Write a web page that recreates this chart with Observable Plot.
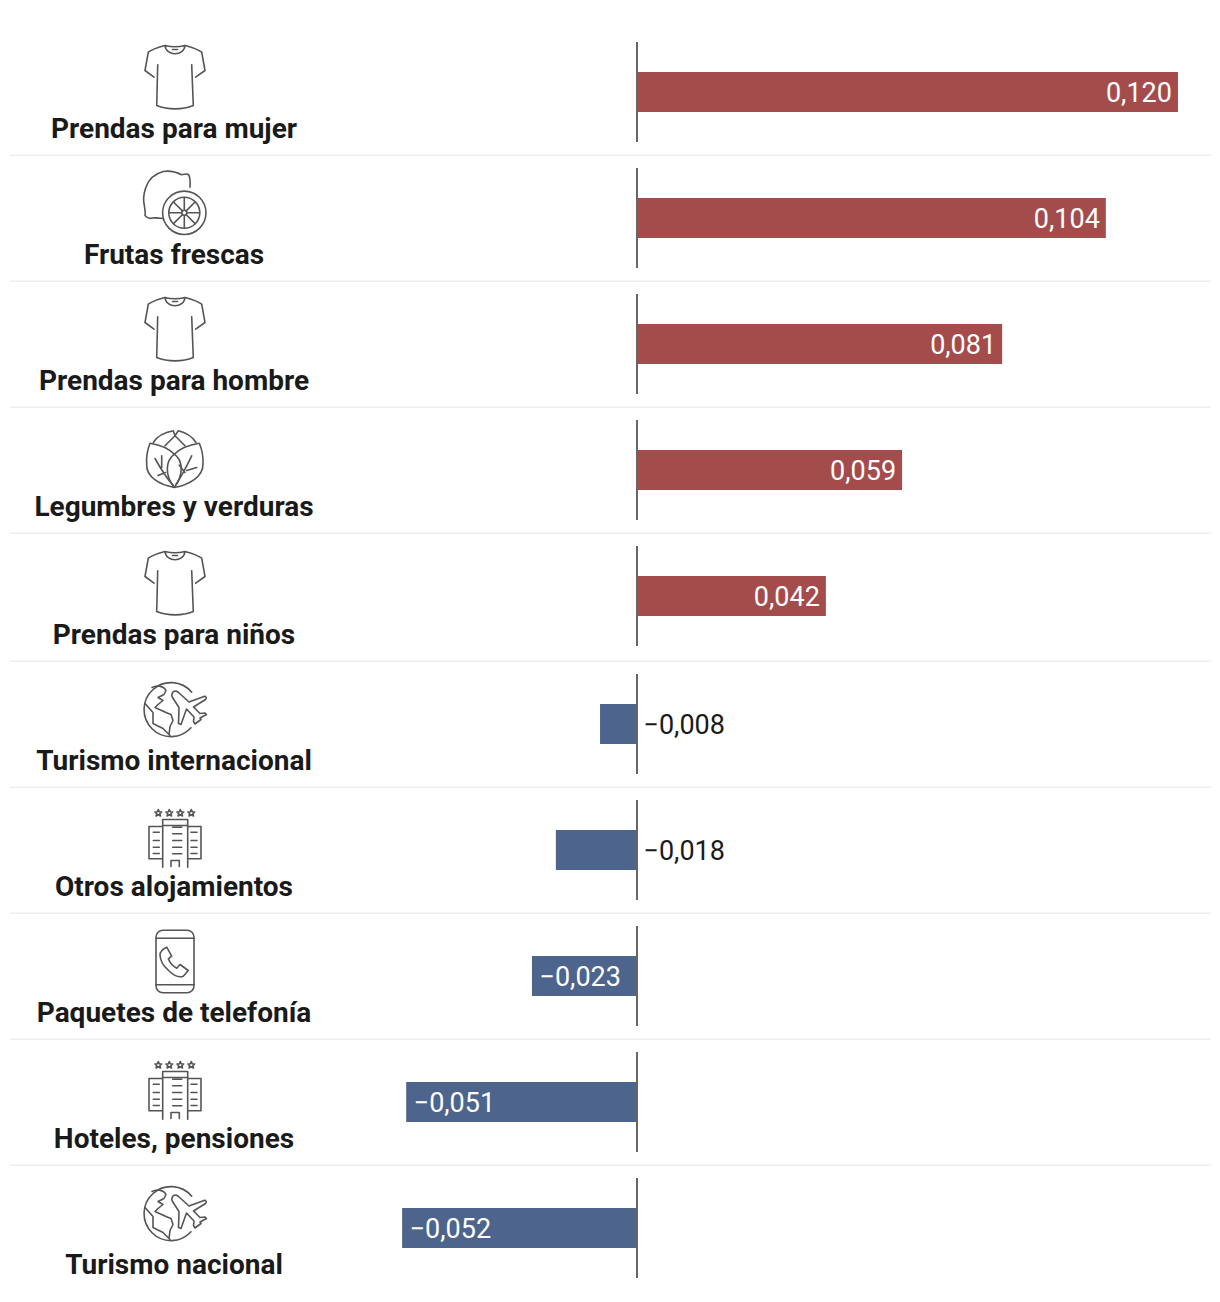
<!DOCTYPE html>
<html lang="es">
<head>
<meta charset="utf-8">
<script src="https://cdn.jsdelivr.net/npm/d3@7"></script>
<script src="https://cdn.jsdelivr.net/npm/@observablehq/plot@0.6"></script>
<style>
html,body{margin:0;padding:0;background:#fff}
#chart{padding-top:30px;width:1220px}
#chart svg{display:block;font-family:Roboto,sans-serif;background:transparent}
</style>
</head>
<body>
<div id="chart"></div>
<script>
const categories = ["Prendas para mujer","Frutas frescas","Prendas para hombre","Legumbres y verduras","Prendas para niños","Turismo internacional","Otros alojamientos","Paquetes de telefonía","Hoteles, pensiones","Turismo nacional"];
const values = [0.120,0.104,0.081,0.0588,0.0419,-0.0082,-0.018,-0.0233,-0.0512,-0.0521];
const iconNames = ["shirt","lemon","shirt","cabbage","shirt","globe","hotel","phone","hotel","globe"];

const star = (x,y)=>`<path d="M${x} ${y-3.2}l1 2.2 2.4.2-1.8 1.6.6 2.4-2.2-1.3-2.2 1.3.6-2.4-1.8-1.6 2.4-.2z"/>`;
const icons = {
  shirt:`<path d="M25 3C17 5 12 7 8.300 9.700L5 28l9 6.700M45 3c8 2 13 4 16.700 6.700L65 28l-9.300 6.700M25 3c1 11 19 11 20 0M25 3c6 1.500 14 1.500 20 0M32.500 7h5M17.700 22.300L16.700 63c11 4.500 26 4.500 36.600 0l-1.600-40.700"/>`,
  lemon:`<path d="M50 18.700c.3-4 .2-10-1.500-12.700-2-1.300-4 0-7 .2C35 3 29 2 23.300 3 13 5.500 8 12 5.500 20 3.500 26 3 32 4.500 38c.5 4 1 7 .5 9 2 2.500 4 3.500 7 2.500 4-.5 7.500 0 11.300.5"/><circle cx="44.300" cy="44.300" r="21.700"/><circle cx="44.300" cy="44.300" r="15.500"/><circle cx="44.300" cy="44.300" r="2.500"/><path d="M44.300 29v12.500M44.300 47v12.500M29 44.300h12.500M47 44.300h12.500M33.500 33.500l8.900 8.900M46.200 46.200l8.900 8.900M55.100 33.500l-8.900 8.900M42.400 46.200l-8.900 8.900"/>`,
  cabbage:`<path d="M34.300 65C19 62 6 54 6.700 41.700 6 33 7.500 27 10 20.700 18 22 28 25 34.300 31.700 41 25 51 22 59.300 20.700 62 27 63.500 33 63 41.700 63 54 50 62 34.300 65zM34.300 31.700C26 38 24 52 34.300 65 44 52 43 38 34.300 31.700z"/><path d="M13.300 20C17 14 24 10 33.300 8.300L35 13.300 38.300 8.300C46 10 52 14 56 20M25 23.300L35 13.300 45 23.300M33.300 63C26 55 20 45 15 36M21.700 45V33.300M25.500 50L18 53M36 62C42 53 47 43 51.700 33.300M45 50L39.300 42.700M46.700 48L56.700 45"/>`,
  globe:`<path d="M51 53.300A27 27 0 1 1 51.700 17.700"/><path d="M33.500 17c1.500-1 3-.5 4.500.5L49 27.500 64 22c2-.5 3 1.500 1.500 3L53.500 32.500 60 39l5-.5 1.500 1.500-6.500 3.500 1 1.500-4 3-2 1.500-1.500-2.500.5-4.500-7.500-8L41 50l-2.500-1L39 33l-6.500-10c-1-2-.5-4.500 1-6z"/><path d="M12 13C18 10 24 12 26 16L24 20 18 23 23 26 18 30 15 33 26 38 31 40 33 46 30 52 29 60M5 29L13 38 13 49 23 54 30 61"/>`,
  hotel:`<path d="M22.700 66.700V19h25v47.700M22.700 25h25M22.700 26H9v32.300h13.700M47.700 26H61v32.300H47.700M31 66v-6h8.300v6M32.700 26.700h9M32.700 33.300h9M32.700 40h9M32.700 46.700h9M32.700 53.300h9M13.300 31.700h6M13.300 40h6M13.300 46.700h6M13.300 53h6M51 31.700h6M51 40h6M51 46.700h6M51 53h6"/>${star(18.3,12.3)}${star(29.3,12.3)}${star(40.3,12.3)}${star(51.3,12.3)}`,
  phone:`<rect x="16" y="3.700" width="38" height="62.600" rx="7"/><path d="M16 11.700h38M16 58.300h38M26.700 20.700l5 9-3.400 2.600c1.500 4 5 7.500 8.400 9.400l3.300-3.700 8.300 6-5 5.700c-4 1.500-10-1-15-6-6-5-8-10-8.300-15.200 0-3 3-6 6.700-7.800z"/>`
};
const iconSrc = name => "data:image/svg+xml;utf8," + encodeURIComponent(
  `<svg xmlns="http://www.w3.org/2000/svg" viewBox="0 0 70 70" width="70" height="70" fill="none" stroke="#555" stroke-width="1.600" stroke-linejoin="round" stroke-linecap="round">${icons[name]}</svg>`);

const unit = 4508;
const fmt = v => (v < 0 ? "−" : "") + Math.abs(v).toFixed(3).replace(".", ",");
const red = "#a44c4c", blue = "#4d648d";
const chart = document.getElementById("chart");

categories.forEach((name, i) => {
  const value = values[i];
  const row = [{name, value, icon: iconNames[i]}];
  const tall = i === 4;                 // this row sits 2px taller in the reference
  const last = i === categories.length - 1;
  const height = tall ? 128 : 126;
  const iconY = {cabbage: 49, hotel: 47, phone: 47, globe: 47, lemon: 47, shirt: 47}[row[0].icon] + (tall ? 2 : 0);
  const labelY = tall ? 101 : 99;
  const outside = value < 0 && value > -0.02;
  const plot = Plot.plot({
    width: 1220, height,
    marginTop: 0, marginBottom: 0, marginLeft: 0, marginRight: 0,
    x: {domain: [-637 / unit, 583 / unit], axis: null},
    style: {fontFamily: "Roboto, sans-serif"},
    marks: [
      Plot.barX(row, {x: "value", fill: value >= 0 ? red : blue, insetTop: 42, insetBottom: height - 82}),
      Plot.ruleX([0], {stroke: "#666", strokeWidth: 2, strokeOpacity: 1, dx: -0.5, insetTop: 12, insetBottom: height - 112}),
      Plot.text(row, {
        x: outside ? () => 0 : "value",
        text: d => fmt(d.value),
        frameAnchor: "top",
        dy: 63,
        lineAnchor: "middle",
        dx: outside ? 6 : value >= 0 ? -6.500 : 7,
        textAnchor: outside || value < 0 ? "start" : "end",
        fontSize: 27,
        fill: outside ? "#1a1a1a" : "#fff",
        stroke: null
      }),
      Plot.image(row, {
        src: d => iconSrc(d.icon), width: 70, height: 70,
        frameAnchor: "top-left", dx: 174.5, dy: iconY
      }),
      Plot.text(row, {
        text: "name", frameAnchor: "top-left", dx: 173.5, dy: labelY,
        textAnchor: "middle", lineAnchor: "middle",
        fontSize: 28, fontWeight: 700, fill: "#1a1a1a"
      }),
      last ? null : Plot.frame({anchor: "bottom", stroke: "#eeeeee", strokeWidth: 2, insetBottom: 1, insetLeft: 10.5, insetRight: 10.5})
    ]
  });
  chart.appendChild(plot);
});
</script>
</body>
</html>
